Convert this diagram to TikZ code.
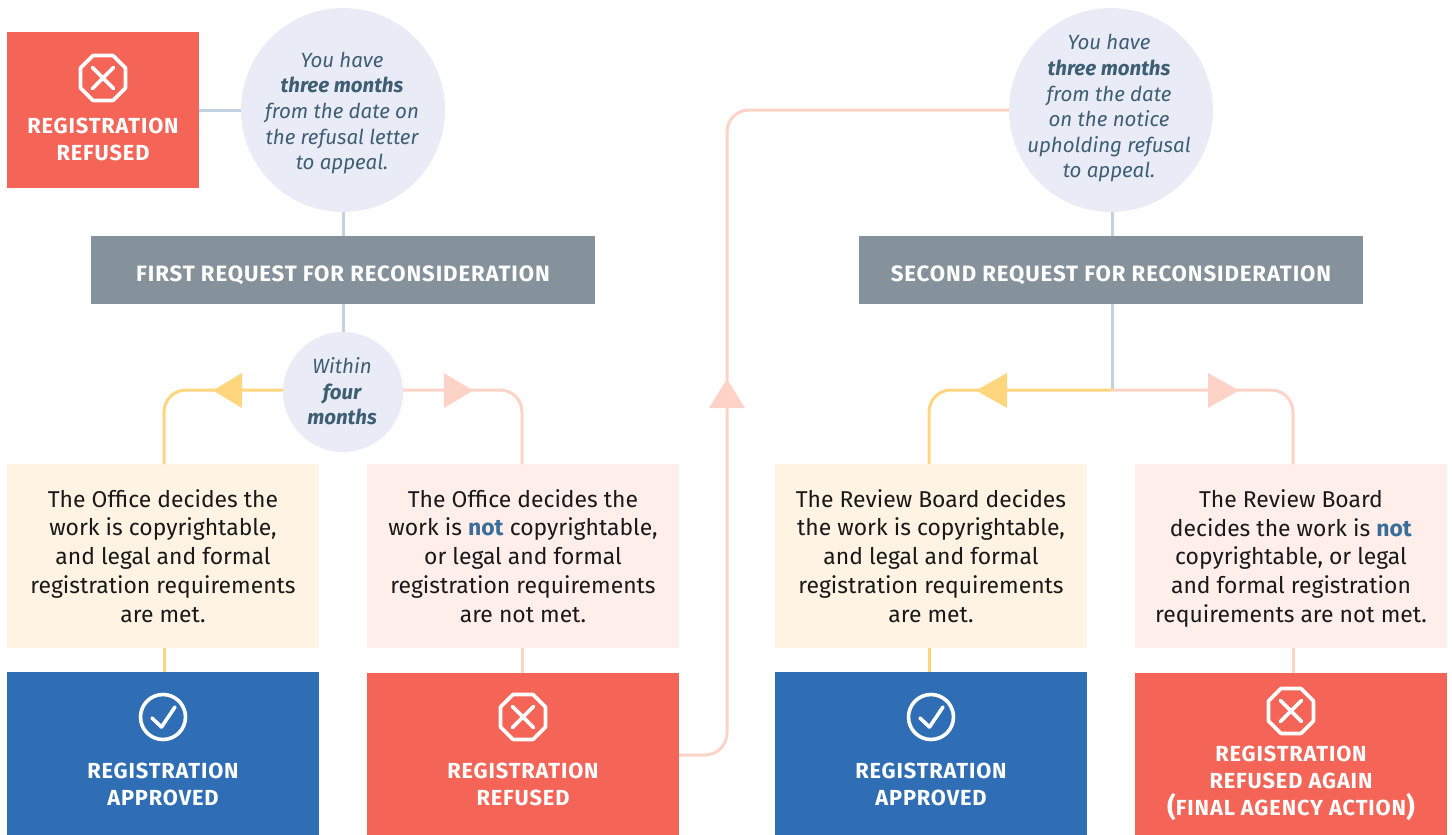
\documentclass[tikz,border=0pt]{standalone}
\usepackage{fontspec}
\setmainfont{Fira Sans}[Scale=1.0]
\newfontfamily\capsfont{Fira Sans}[LetterSpace=4.0,BoldFont={Fira Sans Bold}]
\definecolor{redbox}{HTML}{F46558}
\definecolor{bluebox}{HTML}{2F6EB5}
\definecolor{barbox}{HTML}{85929B}
\definecolor{yellowbox}{HTML}{FFF4E3}
\definecolor{pinkbox}{HTML}{FFEEEA}
\definecolor{circfill}{HTML}{E9EBF7}
\definecolor{circtext}{HTML}{3E5F73}
\definecolor{notblue}{HTML}{3A6D9A}
\definecolor{linegrey}{HTML}{C3D2E0}
\definecolor{lineyellow}{HTML}{FFD57E}
\definecolor{linepink}{HTML}{FDD3C7}
\tikzset{
  x=1pt,y=-1pt,
  flat/.style={inner sep=0pt,outer sep=0pt,minimum width=312,minimum height=#1,align=center},
  iconred/.style={flat=162,fill=redbox},
  iconblue/.style={flat=163,fill=bluebox},
  yellowtext/.style={flat=184,fill=yellowbox,text=black!90,font=\fontsize{22.9}{28.8}\selectfont},
  pinktext/.style={flat=184,fill=pinkbox,text=black!90,font=\fontsize{22.9}{28.8}\selectfont},
  barshape/.style={inner sep=0pt,outer sep=0pt,minimum width=504,minimum height=68,fill=barbox},
  bartext/.style={inner sep=0pt,text=white,font=\capsfont\bfseries\fontsize{22.2}{24}\selectfont},
  bubble/.style={circle,inner sep=0pt,outer sep=0pt,minimum size=#1,fill=circfill},
  bubbletext/.style={inner sep=0pt,text=circtext,align=center,font=\itshape\fontsize{20.5}{25.6}\selectfont},
  caplabel/.style={inner sep=0pt,text=white,align=center,font=\capsfont\bfseries\fontsize{21.8}{27}\selectfont},
  linkg/.style={draw=linegrey,line width=3},
  linky/.style={draw=lineyellow,line width=3,rounded corners=22},
  linkp/.style={draw=linepink,line width=3,rounded corners=22},
  stubline/.style={line width=3},
  iconline/.style={draw=white,line width=3.6,line join=round},
}
\newcommand{\octicon}[2]{%
  \begin{scope}[shift={(#1,#2)}]
    \draw[iconline] (-10,-22.5) -- (10,-22.5) -- (22.5,-10) -- (22.5,10) -- (10,22.5) -- (-10,22.5) -- (-22.5,10) -- (-22.5,-10) -- cycle;
    \draw[iconline,line cap=round] (-10.5,-10.5) -- (10.5,10.5) (-10.5,10.5) -- (10.5,-10.5);
  \end{scope}}
\newcommand{\checkicon}[2]{%
  \begin{scope}[shift={(#1,#2)}]
    \draw[iconline] (0,0) circle[radius=22.5];
    \draw[iconline,line cap=round] (-11,1) -- (-1.5,10) -- (12,-10);
  \end{scope}}
\newcommand{\bigparen}[1]{\raisebox{-1.6pt}{\fontsize{27}{27}\selectfont #1}}
\begin{document}
\begin{tikzpicture}
\useasboundingbox (0,0) rectangle (1452,835);
% nodes
\node[flat=156,minimum width=192,fill=redbox] (refa) at (103,110) {};
\node[bubble=204] (cira) at (343,110) {};
\node[bubbletext] (ciratext) at (342,113) {You have\\\textbf{three months}\\from the date on\\the refusal letter\\to appeal.};
\node[barshape] (bara) at (343,270) {};
\node[bartext,anchor=base] (baratext) at (343,281) {FIRST REQUEST FOR RECONSIDERATION};
\node[bubble=120] (cirb) at (343,392) {};
\node[bubbletext] (cirbtext) at (342,391.5) {Within\\\textbf{four}\\\textbf{months}};
\node[yellowtext] (ya) at (163,556) {The Office decides the\\work is copyrightable,\\and legal and formal\\registration requirements\\are met.};
\node[pinktext] (pa) at (523,556) {The Office decides the\\work is \textcolor{notblue}{\textbf{not}} copyrightable,\\or legal and formal\\registration requirements\\are not met.};
\node[iconblue] (appa) at (163,753.5) {};
\node[iconred] (refb) at (523,754) {};
\node[bubble=204] (circ) at (1111,110) {};
\node[bubbletext] (circtext) at (1109,108.5) {You have\\\textbf{three months}\\from the date\\on the notice\\upholding refusal\\to appeal.};
\node[barshape] (barb) at (1111,270) {};
\node[bartext,anchor=base] (barbtext) at (1111,281) {SECOND REQUEST FOR RECONSIDERATION};
\coordinate (split) at (1112,390);
\node[yellowtext] (yb) at (931,556) {The Review Board decides\\the work is copyrightable,\\and legal and formal\\registration requirements\\are met.};
\node[pinktext] (pb) at (1291,556) {The Review Board\\decides the work is \textcolor{notblue}{\textbf{not}}\\copyrightable, or legal\\and formal registration\\\smash{requirements are not met.}};
\node[iconblue] (appb) at (931,753.5) {};
\node[iconred] (refc) at (1291,754) {};
% connectors
\draw[linkg] (refa.east) -- (cira.west);
\draw[linkg] (cira.south) -- (bara.north);
\draw[linkg] (bara.south) -- (cirb.north);
\draw[linky] (cirb.west |- 0,390) -- (164,390) -- (164,464);
\draw[linkp] (cirb.east |- 0,390) -- (522,390) -- (522,464);
\draw[lineyellow,stubline] (164,648) -- (164,672);
\draw[linepink,stubline] (522,648) -- (522,673);
\draw[linkp] (refb.east |- 0,755) -- (727,755) -- (727,110) -- (circ.west);
\draw[linkg] (split |- circ.south) -- (split |- barb.north);
\draw[linkg] (split |- barb.south) -- (split);
\draw[linky] (split) -- (929,390) -- (929,464);
\draw[linkp] (split) -- (1293,390) -- (1293,464);
\draw[lineyellow,stubline] (929,648) -- (929,672);
\draw[linepink,stubline] (1293,648) -- (1293,673);
% arrowheads
\fill[lineyellow] (242,373) -- (213,390.5) -- (242,408) -- cycle;
\fill[linepink] (444,373) -- (473,390.5) -- (444,408) -- cycle;
\fill[linepink] (709,408) -- (727,379) -- (745,408) -- cycle;
\fill[lineyellow] (1007,373) -- (976,390.5) -- (1007,408) -- cycle;
\fill[linepink] (1208,373) -- (1239,390.5) -- (1208,408) -- cycle;
% icons and box labels
\octicon{103}{78}
\node[caplabel] (refalabel) at (103,139) {REGISTRATION\\REFUSED};
\checkicon{163}{717}
\node[caplabel] (appalabel) at (163,784) {REGISTRATION\\APPROVED};
\octicon{523}{717}
\node[caplabel] (refblabel) at (523,784) {REGISTRATION\\REFUSED};
\checkicon{931}{717}
\node[caplabel] (appblabel) at (931,784) {REGISTRATION\\APPROVED};
\octicon{1291}{711}
\node[caplabel] (refclabel) at (1291,780.5) {REGISTRATION\\REFUSED AGAIN\\\smash{\bigparen{(}FINAL AGENCY ACTION\bigparen{)}}};
\end{tikzpicture}
\end{document}
